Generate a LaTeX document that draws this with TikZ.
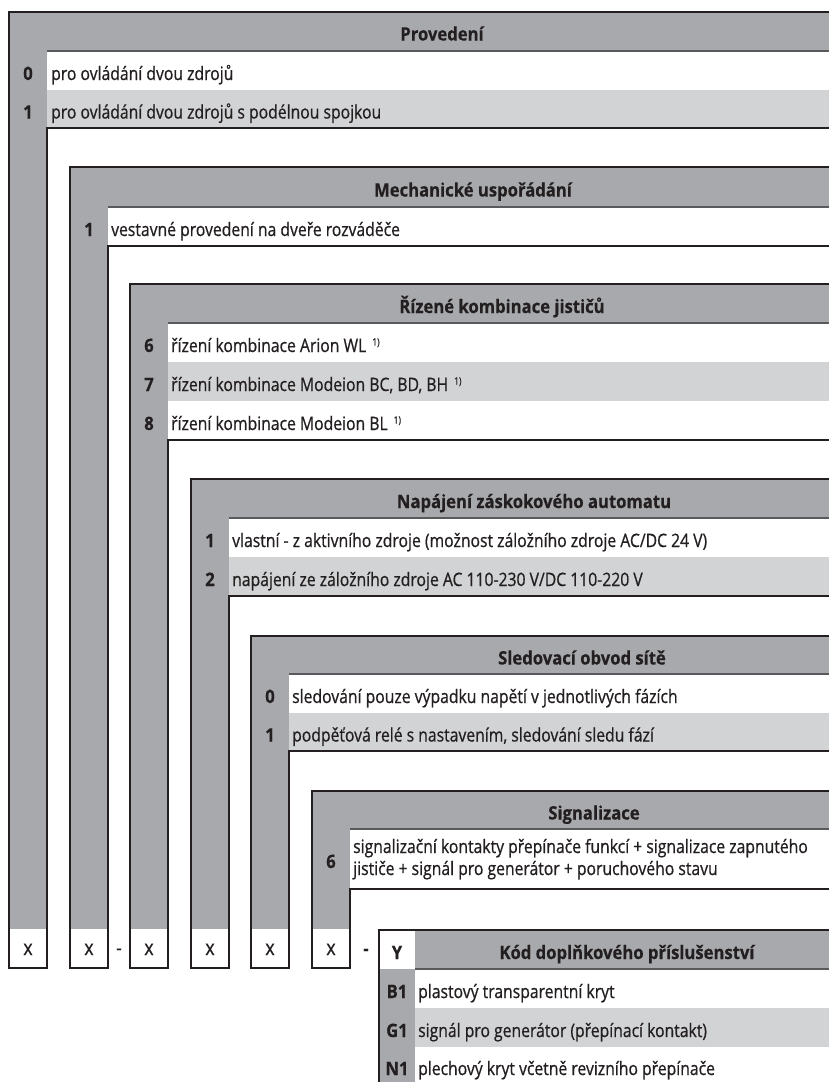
\documentclass[tikz,border=0pt]{standalone}
\usepackage{fontspec}
\setmainfont[FakeStretch=0.85]{Open Sans}
\newfontfamily\regf[FakeStretch=0.85,FakeBold=0.7]{Open Sans}
\newfontfamily\boldf[FakeStretch=0.9,FakeBold=0.4]{Open Sans}
\definecolor{dgray}{HTML}{A7A9AC}
\definecolor{lgray}{HTML}{D1D3D4}
\definecolor{ink}{HTML}{231F20}
\definecolor{divline}{HTML}{58595B}
\newcommand\tbox[5]{% L C T H B
  \fill[dgray] (#1,#3) rectangle (829,#4);
  \fill[dgray] (#1,#4) rectangle (#2,929);
  \fill[white] (#1,929) rectangle (#2,968);
  \draw[divider] (#2,#4) -- (829,#4);
  \draw[border] (829,#5) -- (#2,#5) -- (#2,968) -- (#1,968) -- (#1,#3) -- (829,#3);
}
\newcommand\fn{\hspace{6pt}{\fontsize{10}{10}\selectfont\raisebox{6.5pt}{1)}}}
\begin{document}
\begin{tikzpicture}[x=1pt,y=-1pt,
  border/.style={draw=ink,line width=2pt,line join=miter},
  divider/.style={draw=divline,line width=1.3pt},
  title/.style={font=\boldf\bfseries\fontsize{18.5}{22}\selectfont,text=ink,inner sep=0,anchor=base},
  num/.style={font=\boldf\bfseries\fontsize{18.5}{22}\selectfont,text=ink,inner sep=0,anchor=base},
  txt/.style={font=\regf\fontsize{18.5}{22}\selectfont,text=ink,inner sep=0,anchor=base west},
  xmark/.style={font=\regf\fontsize{21}{22}\selectfont,text=ink,inner sep=0,anchor=base}]
\fill[white] (0,0) rectangle (829,1082);
\useasboundingbox (0,0) rectangle (829,1082);
\clip (0,0) rectangle (829,1082);
% light rows
\fill[lgray] (47,90) rectangle (829,128);
\fill[lgray] (168,362) rectangle (829,401);
\fill[lgray] (229,557) rectangle (829,596);
\fill[lgray] (289,713) rectangle (829,751);
\fill[lgray] (415,1008) rectangle (829,1047);
% boxes
\tbox{9}{47}{12}{51}{128}
\tbox{70}{108}{167}{207}{246}
\tbox{130}{168}{284}{323}{440}
\tbox{191}{229}{479}{518}{596}
\tbox{251}{289}{636}{674}{751}
\tbox{312}{350}{791}{829}{889}
% Y table
\fill[dgray] (415,930) rectangle (829,969);
\fill[dgray] (379,969) rectangle (415,1082);
\draw[divider] (415,969) -- (829,969);
\draw[border] (829,930) -- (379,930) -- (379,1082);
% box 1
\node[title] (t1) at (442,40.5) {Provedení};
\node[num] (n10) at (28,80) {0};
\node[txt] (r10) at (51,80) {pro ovládání dvou zdrojů};
\node[num] (n11) at (28,118.5) {1};
\node[txt] (r11) at (51,118.5) {pro ovládání dvou zdrojů s podélnou spojkou};
% box 2
\node[title] (t2) at (473,196.5) {Mechanické uspořádání};
\node[num] (n21) at (89,236) {1};
\node[txt] (r21) at (111,236) {vestavné provedení na dveře rozváděče};
% box 3
\node[title] (t3) at (502,313) {Řízené kombinace jističů};
\node[num] (n36) at (149,352) {6};
\node[txt] (r36) at (171,352) {řízení kombinace Arion WL\fn};
\node[num] (n37) at (149,391) {7};
\node[txt] (r37) at (171,391) {řízení kombinace Modeion BC, BD, BH\fn};
\node[num] (n38) at (149,430) {8};
\node[txt] (r38) at (171,430) {řízení kombinace Modeion BL\fn};
% box 4
\node[title] (t4) at (534,508) {Napájení záskokového automatu};
\node[num] (n41) at (210,547) {1};
\node[txt] (r41) at (232,547) {vlastní - z aktivního zdroje (možnost záložního zdroje AC/DC 24 V)};
\node[num] (n42) at (210,586) {2};
\node[txt] (r42) at (232,586) {napájení ze záložního zdroje AC 110-230 V/DC 110-220 V};
% box 5
\node[title] (t5) at (582,664.5) {Sledovací obvod sítě};
\node[num] (n50) at (270,703) {0};
\node[txt] (r50) at (292,703) {sledování pouze výpadku napětí v jednotlivých fázích};
\node[num] (n51) at (270,741.5) {1};
\node[txt] (r51) at (292,741.5) {podpěťová relé s nastavením, sledování sledu fází};
% box 6
\node[title] (t6) at (594,819.5) {Signalizace};
\node[num] (n66) at (331,868) {6};
\node[txt] (r66a) at (353,853) {signalizační kontakty přepínače funkcí + signalizace zapnutého};
\node[txt] (r66b) at (353,875) {jističe + signál pro generátor + poruchového stavu};
% x marks
\node[xmark] (x1) at (28,955) {x};
\node[xmark] (x2) at (89,955) {x};
\node[xmark] (x3) at (149,955) {x};
\node[xmark] (x4) at (210,955) {x};
\node[xmark] (x5) at (270,955) {x};
\node[xmark] (x6) at (331,955) {x};
\node[xmark] (d1) at (119,955) {-};
\node[num] (d2) at (366,955) {-};
% Y table
\node[num] (ny) at (397,959) {Y};
\node[title] (ty) at (627,959) {Kód doplňkového příslušenství};
\node[num] (nb1) at (397,998) {B1};
\node[txt] (rb1) at (418,998) {plastový transparentní kryt};
\node[num] (ng1) at (397,1037) {G1};
\node[txt] (rg1) at (418,1037) {signál pro generátor (přepínací kontakt)};
\node[num] (nn1) at (397,1075) {N1};
\node[txt] (rn1) at (418,1075) {plechový kryt včetně revizního přepínače};
\end{tikzpicture}
\end{document}
